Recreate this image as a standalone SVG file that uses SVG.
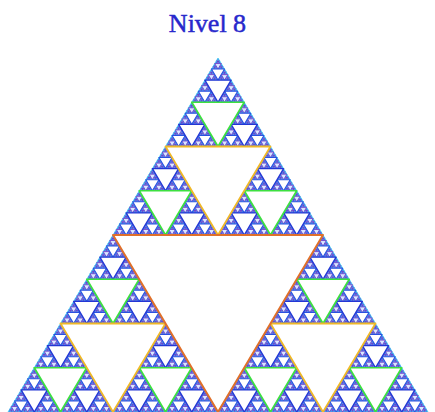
<svg xmlns="http://www.w3.org/2000/svg" xmlns:xlink="http://www.w3.org/1999/xlink" width="435" height="412" viewBox="0 0 435 412">
<style>
.t{fill:#3a74ea;stroke:#46d4f2;stroke-width:0.8;stroke-linejoin:round}
.h{fill:#ffffff;stroke-linejoin:round}
.h1{fill:#6a48d0;stroke:#6a48d0;stroke-width:0.3}
.h2{fill:#d8e6ff;stroke:#7440c8;stroke-width:0.9}
.h3{stroke:#2c50e0;stroke-width:1.1}
.h4{stroke:#2436d4;stroke-width:1.4}
.h5{stroke:#3ee040;stroke-width:1.7}
.h6{stroke:#f0b828;stroke-width:1.8}
.h7{stroke:#e0702a;stroke-width:2}
.title{font-family:"Liberation Serif","DejaVu Serif",serif;font-size:26px;fill:#2828cc;stroke:#2828cc;stroke-width:0.5;text-anchor:middle}
</style>
<defs>
<path id="g0" class="t" d="M1.640625,0 L3.28125,2.765625 L0,2.765625Z"/>
<g id="g1"><use href="#g0" x="1.640625" y="0"/><use href="#g0" x="0" y="2.765625"/><use href="#g0" x="3.28125" y="2.765625"/><path class="h h1" d="M1.640625,2.765625 L4.921875,2.765625 L3.28125,5.53125Z"/></g>
<g id="g2"><use href="#g1" x="3.28125" y="0"/><use href="#g1" x="0" y="5.53125"/><use href="#g1" x="6.5625" y="5.53125"/><path class="h h2" d="M3.28125,5.53125 L9.84375,5.53125 L6.5625,11.0625Z"/></g>
<g id="g3"><use href="#g2" x="6.5625" y="0"/><use href="#g2" x="0" y="11.0625"/><use href="#g2" x="13.125" y="11.0625"/><path class="h h3" d="M6.5625,11.0625 L19.6875,11.0625 L13.125,22.125Z"/></g>
<g id="g4"><use href="#g3" x="13.125" y="0"/><use href="#g3" x="0" y="22.125"/><use href="#g3" x="26.25" y="22.125"/><path class="h h4" d="M13.125,22.125 L39.375,22.125 L26.25,44.25Z"/></g>
<g id="g5"><use href="#g4" x="26.25" y="0"/><use href="#g4" x="0" y="44.25"/><use href="#g4" x="52.5" y="44.25"/><path class="h h5" d="M26.25,44.25 L78.75,44.25 L52.5,88.5Z"/></g>
<g id="g6"><use href="#g5" x="52.5" y="0"/><use href="#g5" x="0" y="88.5"/><use href="#g5" x="105" y="88.5"/><path class="h h6" d="M52.5,88.5 L157.5,88.5 L105,177Z"/></g>
</defs>
<rect width="435" height="412" fill="#ffffff"/>
<text class="title" x="207.5" y="32">Nivel 8</text>
<g id="sierpinski" transform="translate(8,58)">
<use href="#g6" x="105" y="0"/>
<use href="#g6" x="0" y="177"/>
<use href="#g6" x="210" y="177"/>
<path class="h h7" d="M105,177 L315,177 L210,354Z"/>
</g>
</svg>
